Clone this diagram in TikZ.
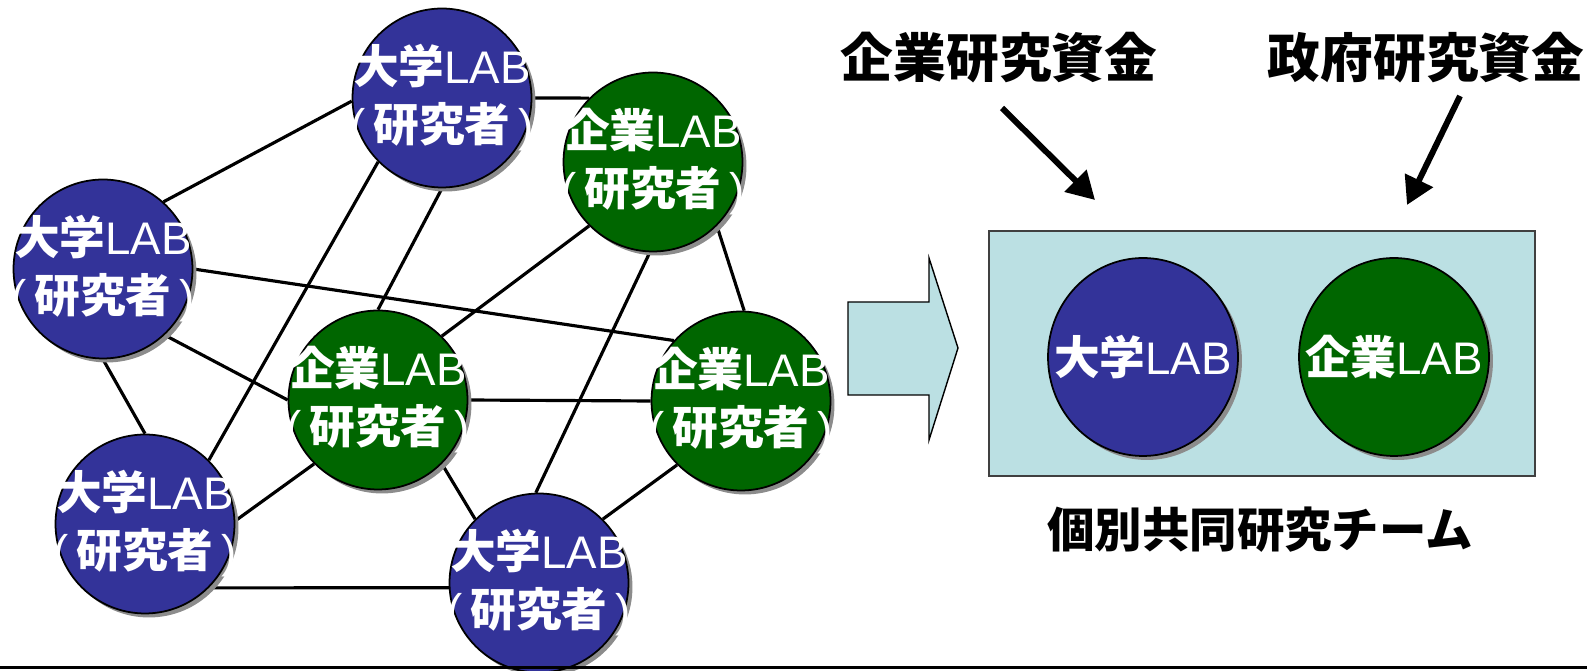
\documentclass[tikz,border=0pt]{standalone}
\usepackage{fontspec}
\setmainfont{Liberation Sans}
\newfontfamily\jp{Noto Sans CJK JP}
\usetikzlibrary{shapes.geometric,shadows,arrows.meta,backgrounds}
\definecolor{ublue}{HTML}{333399}
\definecolor{cgreen}{HTML}{006600}
\definecolor{teamfill}{HTML}{BBE0E3}
\newcommand{\daigaku}{{\jp\bfseries 大学}LAB}
\newcommand{\kigyo}{{\jp\bfseries 企業}LAB}
\newcommand{\kenkyusha}{(\,{\jp\bfseries 研究者}\,)}

\begin{document}
\begin{tikzpicture}[x=0.02cm,y=-0.02cm,
        labshadow/.style={drop shadow={shadow xshift=0.08cm,shadow yshift=-0.08cm,fill=black!45,opacity=1}},
        lab/.style={circle,draw=black,line width=1pt,minimum size=3.58cm,inner sep=0pt,labshadow},
        labtxt/.style={text=white,align=center,font=\fontsize{26}{33}\selectfont},
        ulab/.style={lab,fill=ublue,label={[labtxt]center:\daigaku\\\kenkyusha}},
        clab/.style={lab,fill=cgreen,label={[labtxt]center:\kigyo\\\kenkyusha}},
        teamlab/.style={ellipse,draw=black,line width=1pt,minimum width=3.8cm,minimum height=3.96cm,inner sep=0pt,labshadow},
        link/.style={line width=1.8pt},
        fund/.style={font=\jp\bfseries\fontsize{30}{34}\selectfont},
        fundarrow/.style={line width=0.12cm,-{Triangle[length=0.55cm,width=0.6cm]}}]
    \useasboundingbox (0,0) rectangle (1587,671);
    % network of labs
    \node[ulab] (u1) at (442,98) {};
    \node[clab] (c1) at (653,162) {};
    \node[ulab] (u2) at (103,269) {};
    \node[clab] (c2) at (378,400) {};
    \node[clab] (c3) at (741,401) {};
    \node[ulab] (u3) at (145,524) {};
    \node[ulab] (u4) at (539,583) {};
    \begin{pgfonlayer}{background}
        \draw[link] (u1.0) -- (c1.135);
        \draw[link] (u2.48) -- (u1.182);
        \draw[link] (u2.0) -- (c3.138);
        \draw[link] (u2.-47) -- (c2.180);
        \draw[link] (u2.-90) -- (u3.90);
        \draw[link] (u3.45) -- (u1.225);
        \draw[link] (c2.90) -- (u1.-90);
        \draw[link] (c2.45) -- (c1.225);
        \draw[link] (c1.-45) -- (c3.88);
        \draw[link] (c1.-92) -- (u4.92);
        \draw[link] (c2.0) -- (c3.180);
        \draw[link] (c2.225) -- (u3.2);
        \draw[link] (c2.-45) -- (u4.135);
        \draw[link] (u3.-45) -- (u4.183);
        \draw[link] (u4.45) -- (c3.225);
    \end{pgfonlayer}
    % block arrow
    \draw[fill=teamfill,line width=0.8pt] (848,302) -- (929,302) -- (929,258) -- (958,348)
        -- (929,440) -- (929,395) -- (848,395) -- cycle;
    % joint research team
    \node[draw=black!75,fill=teamfill,line width=1.2pt,minimum width=10.92cm,minimum height=4.9cm] (team) at (1262,353.5) {};
    \node[teamlab,fill=ublue,label={[labtxt]center:\daigaku}] (tu) at (1143,357) {};
    \node[teamlab,fill=cgreen,label={[labtxt]center:\kigyo}] (tc) at (1394,357) {};
    \node[font=\jp\bfseries\fontsize{27}{30}\selectfont] (teamname) at (1260,530) {個別共同研究チーム};
    % funding
    \node[fund] (kfund) at (999,58) {企業研究資金};
    \node[fund] (gfund) at (1426,58) {政府研究資金};
    \coordinate (kfrom) at (1002,108);
    \coordinate (kto) at (1095,200);
    \coordinate (gfrom) at (1460,96);
    \coordinate (gto) at (1407,205);
    \draw[fundarrow] (kfrom) -- (kto);
    \draw[fundarrow] (gfrom) -- (gto);
    \coordinate (bl) at (0,668);
    \coordinate (br) at (1587,668);
    \draw[line width=0.06cm] (bl) -- (br);
\end{tikzpicture}
\end{document}
